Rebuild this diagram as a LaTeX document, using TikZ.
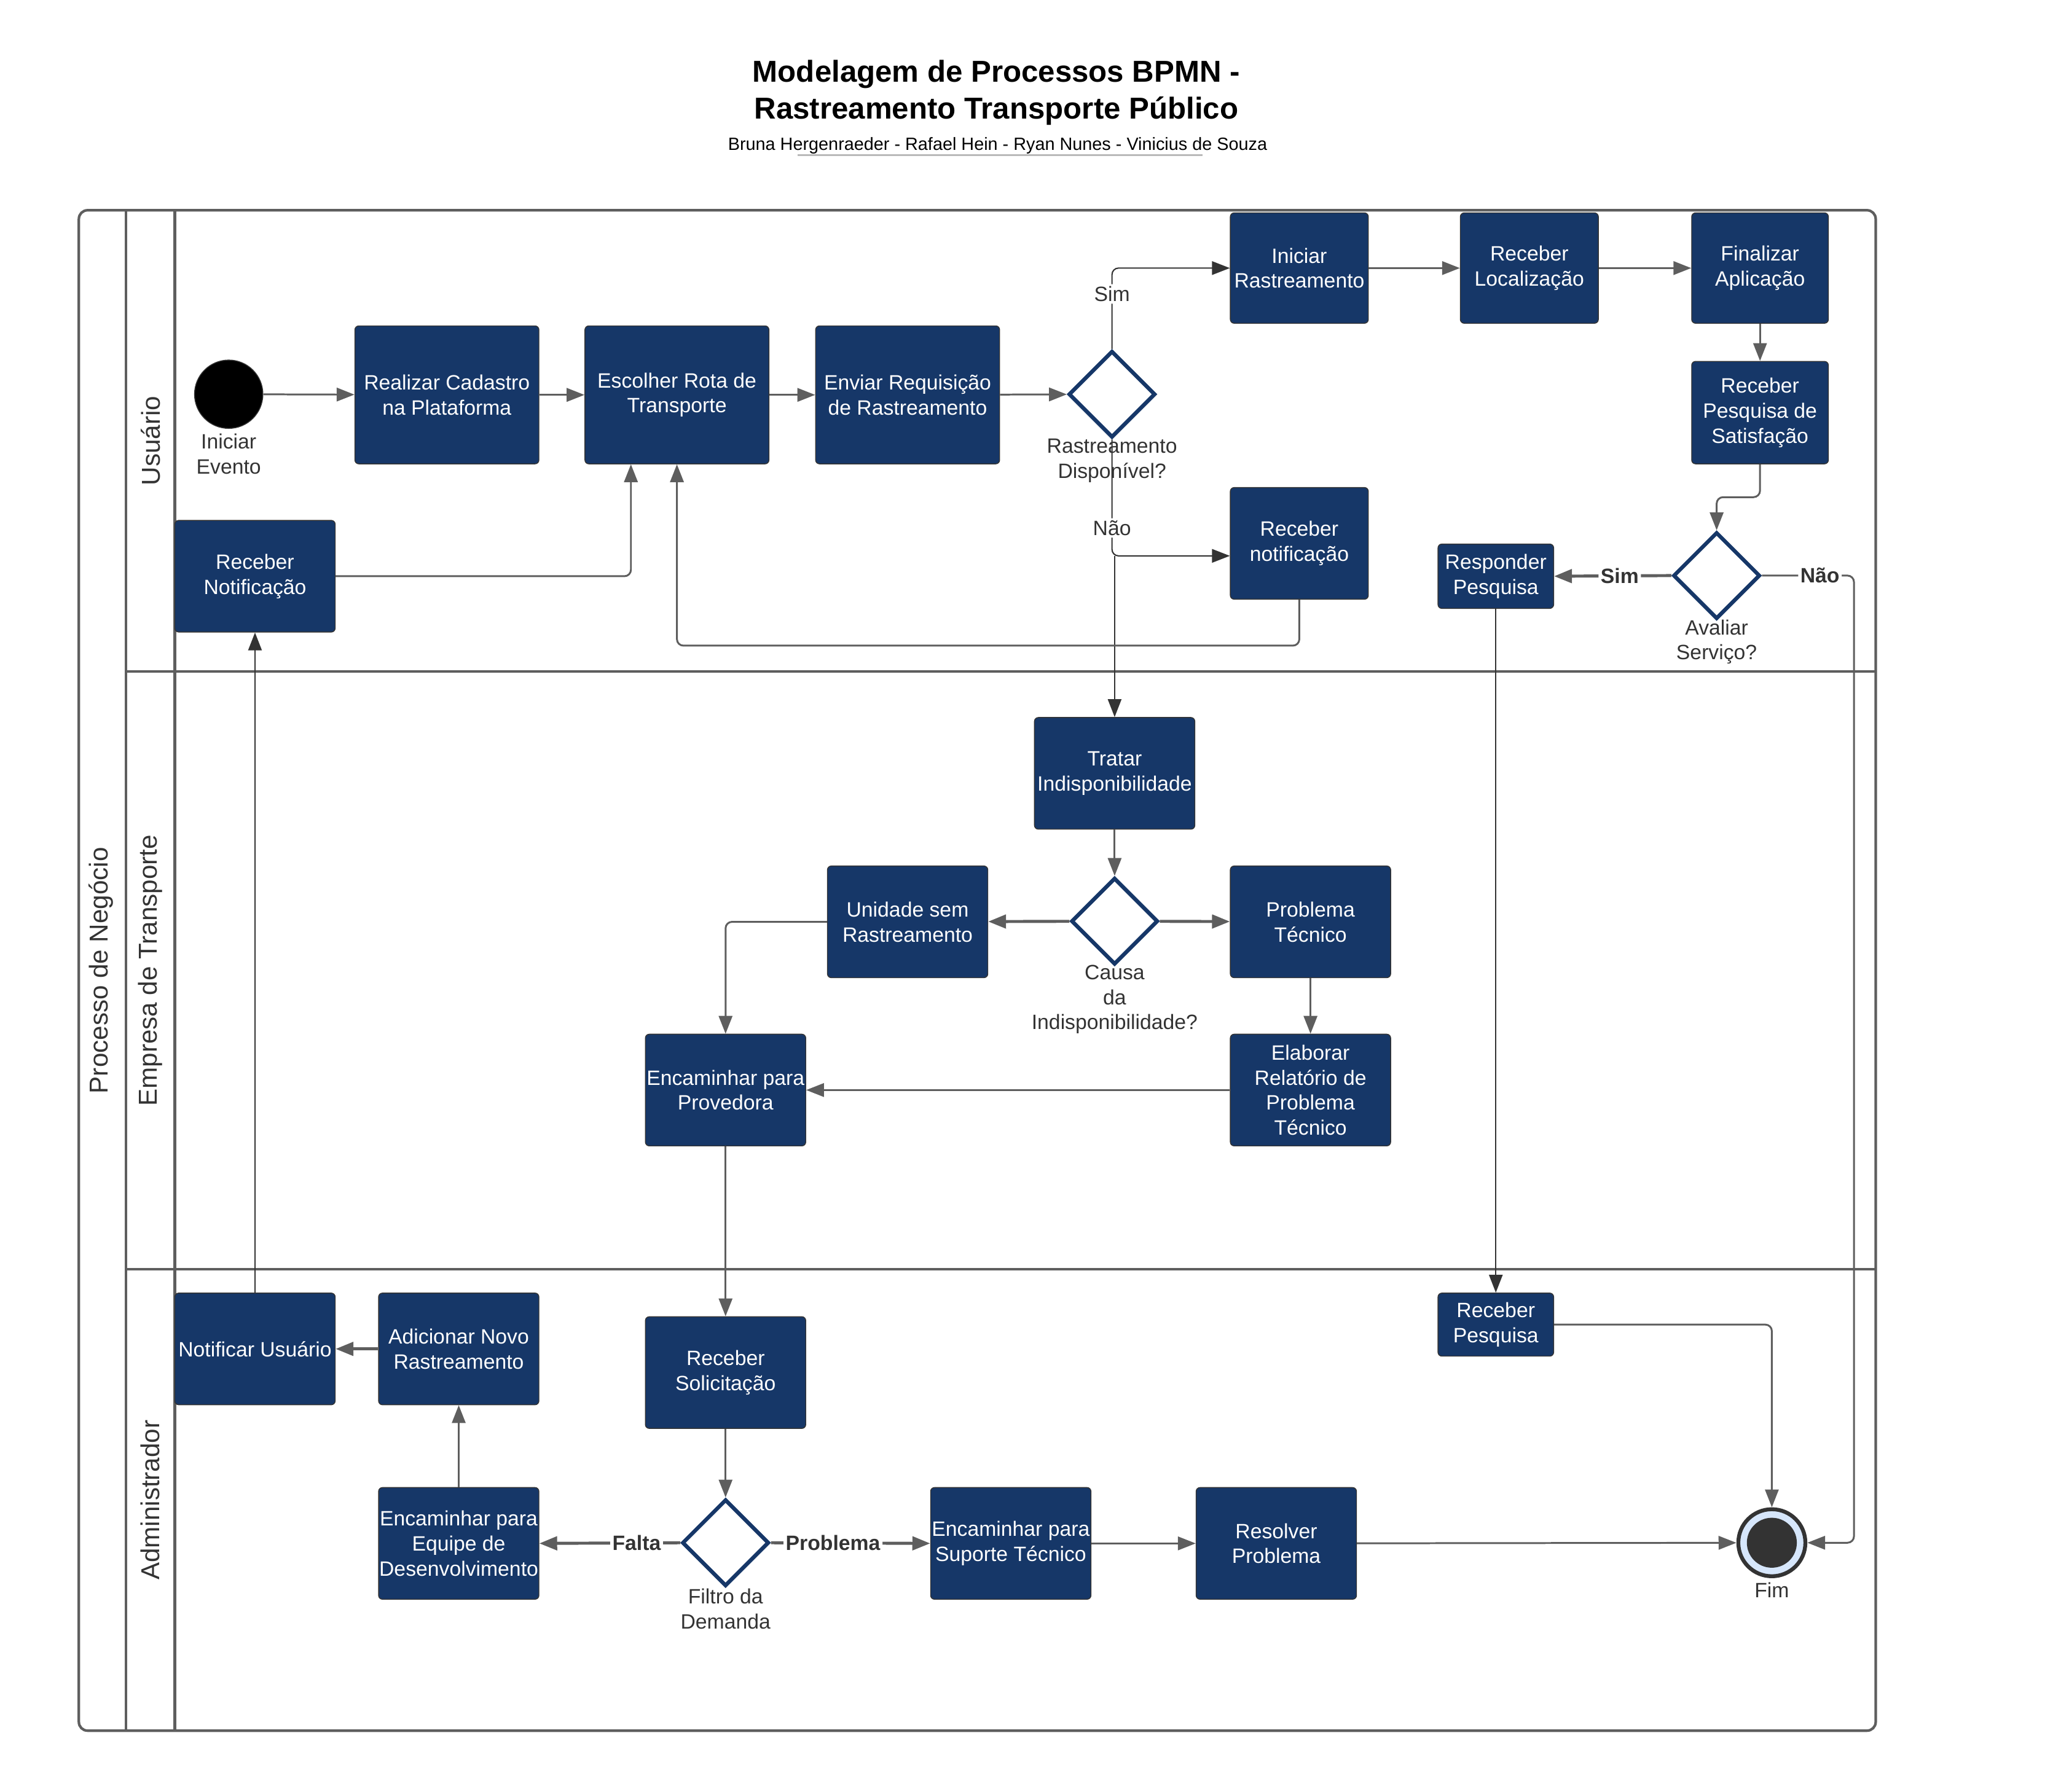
\documentclass[tikz,border=0pt]{standalone}
\usepackage{fontspec}
\setmainfont{Liberation Sans}
\usetikzlibrary{arrows.meta,shapes.geometric}
\newlength\unitpx
\setlength\unitpx{0.2139mm}
\definecolor{navy}{HTML}{163768}
\definecolor{linegray}{HTML}{5E5E5E}
\definecolor{darktext}{HTML}{333333}
\definecolor{endring}{HTML}{D6E6FB}

\begin{document}
\begin{tikzpicture}[x=0.2139mm, y=-0.2139mm,
	task/.style={draw=darktext, line width=0.4pt, fill=navy, text=white, rounded corners=1.8pt, align=center, inner sep=0pt, font=\fontsize{9.6}{11.6}\selectfont, minimum width=122*\unitpx, minimum height=85*\unitpx},
	bigtask/.style={task, minimum width=140*\unitpx, minimum height=105*\unitpx},
	midtask/.style={task, minimum width=105*\unitpx, minimum height=84*\unitpx},
	smalltask/.style={task, minimum width=88*\unitpx, minimum height=49*\unitpx},
	gateway/.style={diamond, aspect=1, draw=navy, line width=1.8pt, fill=white, minimum width=66*\unitpx, minimum height=66*\unitpx, inner sep=0pt},
	gwlabel/.style={text=darktext, align=center, inner sep=0pt, font=\fontsize{9.6}{11.6}\selectfont},
	edgelabel/.style={text=darktext, fill=white, inner sep=1pt, font=\fontsize{9.6}{11.6}\selectfont},
	boldlabel/.style={edgelabel, font=\fontsize{9.6}{11.6}\selectfont\bfseries},
	startevent/.style={circle, fill=black, draw=darktext, line width=0.4pt, minimum size=52*\unitpx, inner sep=0pt},
	endevent/.style={circle, fill=endring, draw=darktext, line width=1.8pt, minimum size=51*\unitpx, inner sep=0pt},
	lanelabel/.style={rotate=90, text=darktext, font=\fontsize{12}{14}\selectfont},
	pool/.style={draw=linegray, line width=1.2pt},
	flow/.style={draw=linegray, line width=0.85pt, rounded corners=3pt, -{Triangle[length=2.9mm,width=2.2mm]}},
	thickflow/.style={flow, line width=1.4pt},
	thinflow/.style={draw=darktext, line width=0.6pt, rounded corners=3pt, -{Triangle[length=2.9mm,width=2.2mm]}}]
	\useasboundingbox (0,0) rectangle (1568,1363.3);
	\node[align=center, font=\fontsize{14}{17.2}\selectfont\bfseries] (titulo) at (758,70.5) {Modelagem de Processos BPMN -\\Rastreamento Transporte Público};
	\node[font=\fontsize{8.2}{10}\selectfont] (autores) at (759,111) {Bruna Hergenraeder - Rafael Hein - Ryan Nunes - Vinicius de Souza};
	\draw[gray!55, line width=0.9pt] (607,118) -- (915,118);

	\draw[pool, rounded corners=4pt] (60,160) rectangle (1427,1317);
	\draw[pool] (96,160) -- (96,1317);
	\draw[pool] (133,160) -- (133,1317);
	\draw[pool] (96,511) -- (1427,511);
	\draw[pool] (96,966) -- (1427,966);
	\node[lanelabel] (processo) at (77,738.5) {Processo de Negócio};
	\node[lanelabel] (usuario) at (114.5,335.5) {Usuário};
	\node[lanelabel] (empresa) at (114.5,738.5) {Empresa de Transporte};
	\node[lanelabel] (admin) at (114.5,1141.5) {Administrador};

	\node[startevent] (start) at (174,300) {};
	\node[gwlabel] (startlbl) at (174,345.5) {Iniciar\\Evento};
	\node[bigtask] (cadastro) at (340,300.5) {Realizar Cadastro\\na Plataforma};
	\node[bigtask] (rota) at (515,300.5) {Escolher Rota de\\Transporte};
	\node[bigtask] (enviar) at (690.5,300.5) {Enviar Requisição\\de Rastreamento};
	\node[gateway] (gwa) at (846,300) {};
	\node[gwlabel] (gwalbl) at (846,350.5) {Rastreamento\\Disponível?};
	\node[midtask] (inirast) at (988.5,204) {Iniciar\\Rastreamento};
	\node[midtask] (recloc) at (1163.5,204) {Receber\\Localização};
	\node[midtask, minimum width=104*\unitpx] (final) at (1339,204) {Finalizar\\Aplicação};
	\node[midtask, minimum width=104*\unitpx, minimum height=78*\unitpx] (pesqsat) at (1339,314) {Receber\\Pesquisa de\\Satisfação};
	\node[gateway] (gwb) at (1306,438) {};
	\node[gwlabel] (gwblbl) at (1306,488.5) {Avaliar\\Serviço?};
	\node[smalltask] (resp) at (1138,438.5) {Responder\\Pesquisa};
	\node[midtask, minimum height=85*\unitpx] (recnot) at (988.5,413.5) {Receber\\notificação};
	\node[task] (recnotu) at (194,438.5) {Receber\\Notificação};

	\node[task] (tratar) at (848,588.5) {Tratar\\Indisponibilidade};
	\node[gateway] (gwc) at (848,701) {};
	\node[gwlabel] (gwclbl) at (848,760.5) {Causa\\da\\Indisponibilidade?};
	\node[task] (unid) at (690.5,701.5) {Unidade sem\\Rastreamento};
	\node[task] (prob) at (997,701.5) {Problema\\Técnico};
	\node[task] (elab) at (997,829.5) {Elaborar\\Relatório de\\Problema\\Técnico};
	\node[task] (prov) at (552,829.5) {Encaminhar para\\Provedora};

	\node[task] (notif) at (194,1026.5) {Notificar Usuário};
	\node[task] (novo) at (349,1026.5) {Adicionar Novo\\Rastreamento};
	\node[task] (recsol) at (552,1044.5) {Receber\\Solicitação};
	\node[gateway] (gwd) at (552,1174) {};
	\node[gwlabel] (gwdlbl) at (552,1224.5) {Filtro da\\Demanda};
	\node[task] (equipe) at (349,1174.5) {Encaminhar para\\Equipe de\\Desenvolvimento};
	\node[task] (suporte) at (769,1174.5) {Encaminhar para\\Suporte Técnico};
	\node[task] (resolver) at (971,1174.5) {Resolver\\Problema};
	\node[smalltask, minimum height=48*\unitpx] (recpesq) at (1138,1008) {Receber\\Pesquisa};
	\node[endevent] (fim) at (1348,1174) {};
	\fill[darktext] (fim.center) circle[radius=19*\unitpx];
	\node[gwlabel] (fimlbl) at (1348,1210) {Fim};

	\coordinate (naobranch) at (848,423);
	\draw[flow] (start) -- (cadastro);
	\draw[flow] (cadastro) -- (rota);
	\draw[flow] (rota) -- (enviar);
	\draw[flow] (enviar) -- (gwa);
	\draw[thinflow] (gwa.north) |- node[edgelabel, pos=.34] {Sim} (inirast.west);
	\draw[thinflow] (gwa.south) |- node[edgelabel, pos=.38] {Não} ([yshift=-9.5*\unitpx]recnot.west);
	\draw[thinflow] (naobranch) -- (tratar.north);
	\draw[flow] (recnot.south) -- ++(0,35) -| (rota.south);
	\draw[flow] (recnotu.east) -| ([xshift=-35*\unitpx]rota.south);
	\draw[flow] (inirast) -- (recloc);
	\draw[flow] (recloc) -- (final);
	\draw[flow] (final) -- (pesqsat);
	\draw[flow] (pesqsat.south) -- ++(0,25) -| (gwb.north);
	\draw[thickflow] (gwb.west) -- node[boldlabel, pos=.44] {Sim} (resp.east);
	\draw[flow] (gwb.east) -- node[boldlabel, pos=.63] {Não} ++(70,0) |- (fim.east);
	\draw[thinflow] (resp.south) -- (recpesq.north);

	\draw[flow] (tratar) -- (gwc);
	\draw[thickflow] (gwc) -- (unid);
	\draw[thickflow] (gwc) -- (prob);
	\draw[flow] (prob) -- (elab);
	\draw[flow] (elab) -- (prov);
	\draw[flow] (unid.west) -| (prov.north);
	\draw[flow] (prov) -- (recsol);

	\draw[flow] (recsol) -- (gwd);
	\draw[thickflow] (gwd.west) -- node[boldlabel, pos=.31] {Falta} (equipe.east);
	\draw[thickflow] (gwd.east) -- node[boldlabel, pos=.39] {Problema} (suporte.west);
	\draw[flow] (suporte) -- (resolver);
	\draw[flow] (resolver) -- (fim);
	\draw[flow] (equipe) -- (novo);
	\draw[thickflow] (novo) -- (notif);
	\draw[thinflow] (notif) -- (recnotu);
	\draw[flow] (recpesq.east) -| (fim.north);
\end{tikzpicture}
\end{document}
